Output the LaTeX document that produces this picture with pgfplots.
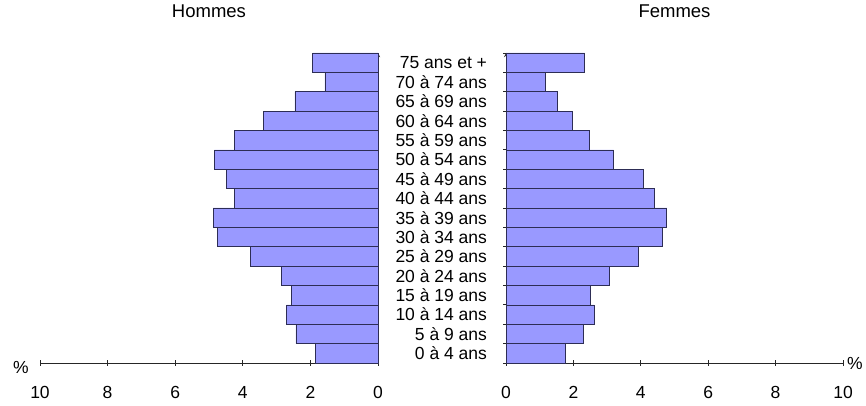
\documentclass[border=0pt]{standalone}
\usepackage{fontspec}
\setmainfont{Liberation Sans}
\usepackage{pgfplots}
\pgfplotsset{compat=1.18}

\definecolor{barfill}{RGB}{153,153,255}
\definecolor{baredge}{RGB}{45,45,85}

% common look of both halves
\pgfplotsset{pyr/.style={
    scale only axis, height=310pt,
    xmin=0, xmax=10, ymin=-0.5, ymax=15.5,
    axis x line=bottom,
    axis line style={-, black!85, line width=0.9pt},
    xtick={0,2,...,10},
    minor ytick={-0.5,0.5,...,15.5},
    major y tick style={draw=none},
    minor y tick style={black!85, line width=0.8pt},
    major x tick style={black!85, line width=0.8pt, yshift=2.5pt},
    major tick length=5pt, minor tick length=6pt,
    tick align=outside,
    /pgf/number format/assume math mode=true,
    tick label style={font=\fontsize{17.5}{20}\selectfont, black},
    xticklabel style={yshift=-15pt},
    title style={font=\fontsize{18.5}{22}\selectfont, at={(0.5,1)}, anchor=center, yshift=36pt},
    xlabel style={font=\fontsize{17.5}{20}\selectfont, anchor=center},
    xlabel={\%},
    clip=false,
  },
  pyrbar/.style={xbar, bar width=1, fill=barfill, draw=baredge, line width=0.7pt},
}

\begin{document}
\begin{tikzpicture}[x=1pt, y=1pt]
\useasboundingbox (0,0) rectangle (866,406);

% Hommes
\begin{axis}[pyr, at={(40pt,43pt)}, anchor=south west, width=338pt,
    x dir=reverse, axis y line=right, ytick=\empty,
    title={Hommes},
    xlabel style={at={(axis description cs:0,0)}, xshift=-19pt, yshift=-4pt}]
  \addplot[pyrbar] coordinates {
    (1.84,0) (2.43,1) (2.70,2) (2.57,3) (2.86,4) (3.77,5) (4.75,6) (4.88,7)
    (4.25,8) (4.49,9) (4.84,10) (4.25,11) (3.40,12) (2.46,13) (1.57,14) (1.93,15)
  };
\end{axis}

% Femmes
\begin{axis}[pyr, at={(506pt,43pt)}, anchor=south west, width=337pt,
    axis y line=left,
    ytick={0,...,15},
    yticklabels={0 à 4 ans, 5 à 9 ans, 10 à 14 ans, 15 à 19 ans, 20 à 24 ans,
      25 à 29 ans, 30 à 34 ans, 35 à 39 ans, 40 à 44 ans, 45 à 49 ans,
      50 à 54 ans, 55 à 59 ans, 60 à 64 ans, 65 à 69 ans, 70 à 74 ans, 75 ans et +},
    yticklabel style={font=\fontsize{17.5}{20}\selectfont, anchor=east, xshift=-13pt},
    title={Femmes},
    xlabel style={at={(axis description cs:1,0)}, xshift=12pt, yshift=0pt}]
  \addplot[pyrbar] coordinates {
    (1.75,0) (2.29,1) (2.61,2) (2.51,3) (3.06,4) (3.92,5) (4.63,6) (4.77,7)
    (4.40,8) (4.08,9) (3.19,10) (2.47,11) (1.98,12) (1.52,13) (1.17,14) (2.33,15)
  };
\end{axis}
\end{tikzpicture}
\end{document}
